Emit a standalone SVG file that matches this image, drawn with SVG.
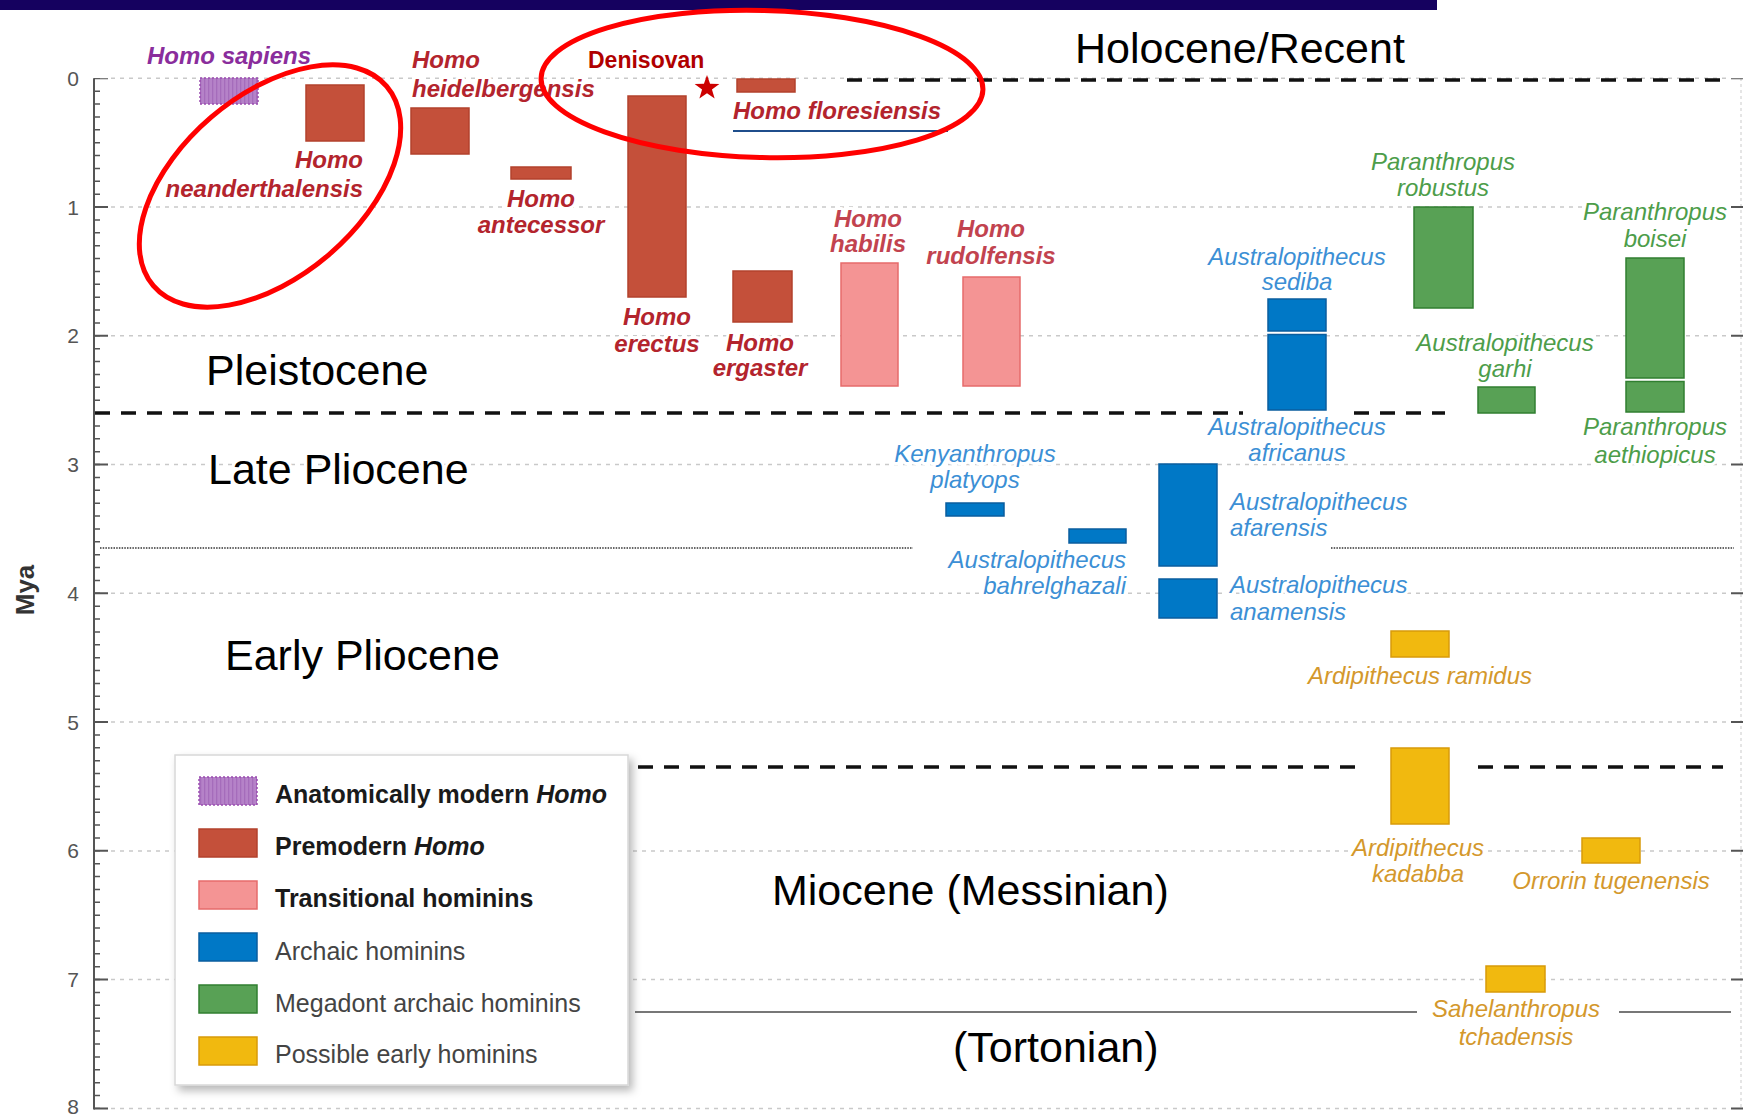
<svg xmlns="http://www.w3.org/2000/svg" width="1743" height="1116" viewBox="0 0 1743 1116">
<style>
.era{font-family:"Liberation Sans",Arial,sans-serif;font-size:43px;fill:#000;paint-order:stroke;stroke:#fff;stroke-width:6;stroke-linejoin:round}
.tick{font-family:"Liberation Sans",Arial,sans-serif;font-size:21px;fill:#555;text-anchor:middle}
.lb{font-family:"Liberation Sans",Arial,sans-serif;font-size:24px;font-style:italic;paint-order:stroke;stroke:#fff;stroke-width:6;stroke-linejoin:round}
.bi{font-weight:bold}
.red{fill:#b3242d}
.pinkt{fill:#c2434f}
.purt{fill:#8a2d9c}
.bluet{fill:#3c8fd5}
.greent{fill:#4d9d4a}
.oranget{fill:#d4982c}
.mid{text-anchor:middle}
.end{text-anchor:end}
.prem{fill:#c4503a;stroke:#b3412c;stroke-width:1.5}
.trans{fill:#f49494;stroke:#e66b6b;stroke-width:1.5}
.arch{fill:#0078c6;stroke:#0a5d9e;stroke-width:1.5}
.mega{fill:#58a155;stroke:#317f31;stroke-width:1.5}
.early{fill:#f1b90f;stroke:#d89b0a;stroke-width:1.5}
.mod{fill:url(#hatch);stroke:#9a4cb0;stroke-width:1.5;stroke-dasharray:2 2}
.grid{stroke:#c9c9c9;stroke-width:1.5;stroke-dasharray:4 5;fill:none}
.epoch{stroke:#111;stroke-width:3.5;stroke-dasharray:15 11;fill:none}
.leg{font-family:"Liberation Sans",Arial,sans-serif;font-size:25px}
.circ{fill:none;stroke:#ff0000;stroke-width:5}
</style>
<defs>
<pattern id="hatch" patternUnits="userSpaceOnUse" width="4" height="4">
<rect width="4" height="4" fill="#b582c8"/>
<rect width="1.3" height="4" fill="#a56cbb"/>
</pattern>
<filter id="shadow" x="-10%" y="-10%" width="125%" height="125%">
<feDropShadow dx="4" dy="5" stdDeviation="4" flood-color="#000" flood-opacity="0.28"/>
</filter>
</defs>

<rect x="0" y="0" width="1437" height="10" fill="#15015f"/>

<g id="gridlines">
<path class="grid" d="M111 78.3H1731M111 207.1H1731M111 335.8H1731M111 464.6H1731M111 593.3H1731M111 722.1H1731M111 850.9H1731M111 979.6H1731M111 1108.4H1731"/>
</g>

<g id="axis">
<line x1="94" y1="78.3" x2="94" y2="1109.4" stroke="#555" stroke-width="2"/>
<line x1="97" y1="78.3" x2="97" y2="1109" stroke="#555" stroke-width="6" stroke-dasharray="1.5 11.376" stroke-dashoffset="0.75"/>
<line x1="101" y1="78.3" x2="101" y2="1110" stroke="#555" stroke-width="14" stroke-dasharray="2 126.76" stroke-dashoffset="1"/>
<text class="tick" x="73" y="86">0</text>
<text class="tick" x="73" y="215">1</text>
<text class="tick" x="73" y="343">2</text>
<text class="tick" x="73" y="472">3</text>
<text class="tick" x="73" y="601">4</text>
<text class="tick" x="73" y="730">5</text>
<text class="tick" x="73" y="858">6</text>
<text class="tick" x="73" y="987">7</text>
<text class="tick" x="73" y="1114">8</text>
<text transform="translate(34 590) rotate(-90)" text-anchor="middle" font-family="'Liberation Sans',Arial,sans-serif" font-size="26" font-weight="bold" fill="#333">Mya</text>
<line x1="1741" y1="78" x2="1741" y2="1110" stroke="#ddd" stroke-width="1.5" stroke-dasharray="3 3"/>
<line x1="1737" y1="78.3" x2="1737" y2="1110" stroke="#555" stroke-width="12" stroke-dasharray="2 126.76" stroke-dashoffset="1"/>
</g>

<g id="eras">
<text class="era" x="1075" y="63">Holocene/Recent</text>
<text class="era" x="206" y="385">Pleistocene</text>
<text class="era" x="208" y="484">Late Pliocene</text>
<text class="era" x="225" y="670">Early Pliocene</text>
<text class="era" x="772" y="905">Miocene (Messinian)</text>
<text class="era" x="953" y="1062">(Tortonian)</text>
</g>

<g id="labels">
<text class="lb bi purt mid" x="229" y="64">Homo sapiens</text>
<text class="lb bi red end" x="363" y="168">Homo</text>
<text class="lb bi red end" x="363" y="197">neanderthalensis</text>
<text class="lb bi red" x="412" y="68">Homo</text>
<text class="lb bi red" x="412" y="97">heidelbergensis</text>
<text class="lb bi red mid" x="541" y="207">Homo</text>
<text class="lb bi red mid" x="541" y="233">antecessor</text>
<text class="lb bi red" x="733" y="119">Homo floresiensis</text>
<text class="lb bi red mid" x="657" y="325">Homo</text>
<text class="lb bi red mid" x="657" y="352">erectus</text>
<text class="lb bi red mid" x="760" y="351">Homo</text>
<text class="lb bi red mid" x="760" y="376">ergaster</text>
<text class="lb bi pinkt mid" x="868" y="227">Homo</text>
<text class="lb bi pinkt mid" x="868" y="252">habilis</text>
<text class="lb bi pinkt mid" x="991" y="237">Homo</text>
<text class="lb bi pinkt mid" x="991" y="264">rudolfensis</text>
<text x="588" y="68" font-family="'Liberation Sans',Arial,sans-serif" font-size="23" font-weight="bold" fill="#b00000">Denisovan</text>

<text class="lb bluet mid" x="975" y="462">Kenyanthropus</text>
<text class="lb bluet mid" x="975" y="488">platyops</text>
<text class="lb bluet end" x="1126" y="568">Australopithecus</text>
<text class="lb bluet end" x="1126" y="594">bahrelghazali</text>
<text class="lb bluet mid" x="1297" y="265">Australopithecus</text>
<text class="lb bluet mid" x="1297" y="290">sediba</text>
<text class="lb bluet mid" x="1297" y="435">Australopithecus</text>
<text class="lb bluet mid" x="1297" y="461">africanus</text>
<text class="lb bluet" x="1230" y="510">Australopithecus</text>
<text class="lb bluet" x="1230" y="536">afarensis</text>
<text class="lb bluet" x="1230" y="593">Australopithecus</text>
<text class="lb bluet" x="1230" y="620">anamensis</text>

<text class="lb greent mid" x="1443" y="170">Paranthropus</text>
<text class="lb greent mid" x="1443" y="196">robustus</text>
<text class="lb greent mid" x="1505" y="351">Australopithecus</text>
<text class="lb greent mid" x="1505" y="377">garhi</text>
<text class="lb greent mid" x="1655" y="220">Paranthropus</text>
<text class="lb greent mid" x="1655" y="247">boisei</text>
<text class="lb greent mid" x="1655" y="435">Paranthropus</text>
<text class="lb greent mid" x="1655" y="463">aethiopicus</text>

<text class="lb oranget mid" x="1420" y="684">Ardipithecus ramidus</text>
<text class="lb oranget mid" x="1418" y="856">Ardipithecus</text>
<text class="lb oranget mid" x="1418" y="882">kadabba</text>
<text class="lb oranget mid" x="1611" y="889">Orrorin tugenensis</text>
<text class="lb oranget mid" x="1516" y="1017">Sahelanthropus</text>
<text class="lb oranget mid" x="1516" y="1045">tchadensis</text>
</g>

<g id="connectors">
<path class="epoch" d="M847 80H1729"/>
<path class="epoch" d="M95 413H1243M1354 413H1445"/>
<path d="M100 548H913M1331 548H1734" stroke="#333" stroke-width="1.6" stroke-dasharray="1.5 1.2" fill="none"/>
<path class="epoch" d="M638 767H1365M1478 767H1723"/>
<path d="M635 1012H1417M1619 1012H1731" stroke="#777" stroke-width="2" fill="none"/>
<line x1="733" y1="131" x2="948" y2="131" stroke="#1f4e8c" stroke-width="2.2"/>
</g>

<g id="n-sapiens"><rect class="mod" x="200" y="78" width="58" height="26"/></g>
<g id="n-neanderthalensis"><rect class="prem" x="306" y="85" width="58" height="56"/></g>
<g id="n-heidelbergensis"><rect class="prem" x="411" y="108" width="58" height="46"/></g>
<g id="n-antecessor"><rect class="prem" x="511" y="167" width="60" height="12"/></g>
<g id="n-erectus"><rect class="prem" x="628" y="96" width="58" height="201"/></g>
<g id="n-denisovan"><polygon fill="#cc0000" points="707,75 710.06,83.79 719.36,83.98 711.95,89.61 714.64,98.52 707,93.2 699.36,98.52 702.05,89.61 694.64,83.98 703.94,83.79"/></g>
<g id="n-floresiensis"><rect class="prem" x="737" y="79" width="58" height="13"/></g>
<g id="n-ergaster"><rect class="prem" x="733" y="271" width="59" height="51"/></g>
<g id="n-habilis"><rect class="trans" x="841" y="263" width="57" height="123"/></g>
<g id="n-rudolfensis"><rect class="trans" x="963" y="277" width="57" height="109"/></g>
<g id="n-sediba"><rect class="arch" x="1268" y="299" width="58" height="32"/></g>
<g id="n-africanus"><rect class="arch" x="1268" y="334.5" width="58" height="75.5"/></g>
<g id="n-platyops"><rect class="arch" x="946" y="503" width="58" height="13"/></g>
<g id="n-bahrelghazali"><rect class="arch" x="1069" y="529" width="57" height="14"/></g>
<g id="n-afarensis"><rect class="arch" x="1159" y="464" width="58" height="102"/></g>
<g id="n-anamensis"><rect class="arch" x="1159" y="579" width="58" height="39"/></g>
<g id="n-robustus"><rect class="mega" x="1414" y="207" width="59" height="101"/></g>
<g id="n-garhi"><rect class="mega" x="1478" y="387" width="57" height="26"/></g>
<g id="n-boisei"><rect class="mega" x="1626" y="258" width="58" height="120"/></g>
<g id="n-aethiopicus"><rect class="mega" x="1626" y="381.5" width="58" height="30.5"/></g>
<g id="n-ramidus"><rect class="early" x="1391" y="631" width="58" height="26"/></g>
<g id="n-kadabba"><rect class="early" x="1391" y="748" width="58" height="76"/></g>
<g id="n-orrorin"><rect class="early" x="1582" y="838" width="58" height="25"/></g>
<g id="n-sahelanthropus"><rect class="early" x="1486" y="966" width="59" height="26"/></g>

<g id="legend">
<rect x="175" y="755" width="453" height="330" fill="#fff" stroke="#d8d8d8" stroke-width="1.5" filter="url(#shadow)"/>
<rect class="mod" x="199" y="777" width="58" height="28"/>
<rect class="prem" x="199" y="829" width="58" height="28"/>
<rect class="trans" x="199" y="881" width="58" height="28"/>
<rect class="arch" x="199" y="933" width="58" height="28"/>
<rect class="mega" x="199" y="985" width="58" height="28"/>
<rect class="early" x="199" y="1037" width="58" height="28"/>
<text class="leg" x="275" y="803" font-weight="bold" fill="#1a1a1a">Anatomically modern <tspan font-style="italic">Homo</tspan></text>
<text class="leg" x="275" y="855" font-weight="bold" fill="#1a1a1a">Premodern <tspan font-style="italic">Homo</tspan></text>
<text class="leg" x="275" y="907" font-weight="bold" fill="#1a1a1a">Transitional hominins</text>
<text class="leg" x="275" y="960" fill="#444">Archaic hominins</text>
<text class="leg" x="275" y="1012" fill="#444">Megadont archaic hominins</text>
<text class="leg" x="275" y="1063" fill="#444">Possible early hominins</text>
</g>

<g id="highlights">
<ellipse class="circ" cx="270" cy="186" rx="153.5" ry="90.5" transform="rotate(-40.5 270 186)"/>
<ellipse class="circ" cx="762" cy="84" rx="221" ry="73.5" transform="rotate(1.5 762 84)"/>
</g>
</svg>
